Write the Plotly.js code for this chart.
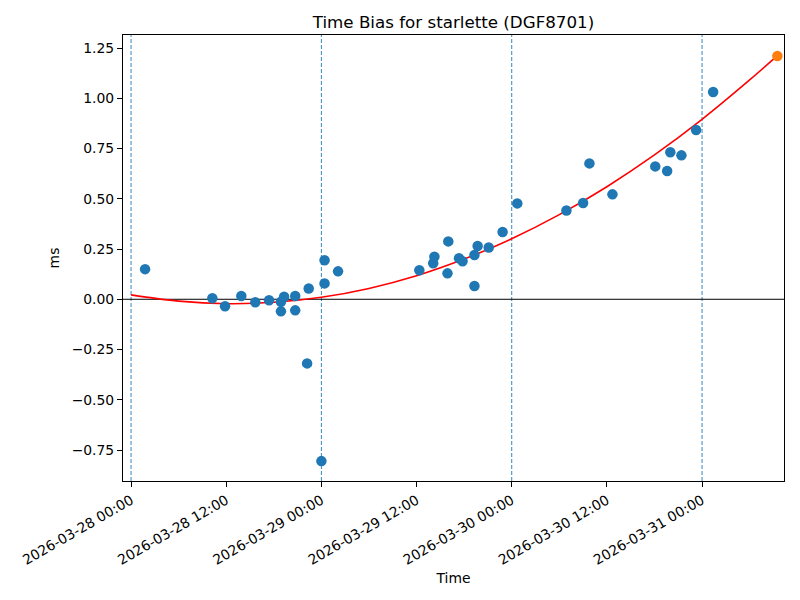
<!DOCTYPE html>
<html>
<head>
<meta charset="utf-8">
<script src="https://cdn.plot.ly/plotly-3.0.1.min.js"></script>
<style>html,body{margin:0;padding:0;background:#fff}#chart{width:800px;height:600px}</style>
</head>
<body>
<div id="chart"></div>
<script>
// Observed time bias points
const obsTimes = [
  '2026-03-28 01:46','2026-03-28 10:15','2026-03-28 11:51','2026-03-28 13:54','2026-03-28 15:40',
  '2026-03-28 17:24','2026-03-28 18:54','2026-03-28 18:54','2026-03-28 19:18','2026-03-28 20:42',
  '2026-03-28 20:42','2026-03-28 22:12','2026-03-28 22:24','2026-03-29 00:00','2026-03-29 00:24',
  '2026-03-29 00:24','2026-03-29 02:06','2026-03-29 12:21','2026-03-29 14:06','2026-03-29 14:15',
  '2026-03-29 15:54','2026-03-29 16:00','2026-03-29 17:21','2026-03-29 17:48','2026-03-29 19:18',
  '2026-03-29 19:18','2026-03-29 19:42','2026-03-29 21:06','2026-03-29 22:51','2026-03-30 00:42',
  '2026-03-30 06:54','2026-03-30 09:00','2026-03-30 09:48','2026-03-30 12:42','2026-03-30 18:06',
  '2026-03-30 19:36','2026-03-30 20:00','2026-03-30 21:24','2026-03-30 23:15','2026-03-31 01:24'
];
const obsBias = [
  0.150, 0.005, -0.035, 0.016, -0.015,
  -0.005, -0.012, -0.060, 0.013, 0.016,
  -0.055, -0.319, 0.054, -0.805, 0.194,
  0.079, 0.139, 0.144, 0.179, 0.212,
  0.129, 0.288, 0.204, 0.189, 0.220,
  0.066, 0.265, 0.258, 0.335, 0.477,
  0.442, 0.479, 0.676, 0.522, 0.661,
  0.638, 0.731, 0.716, 0.842, 1.031
];
// Fitted curve, every 6 hours
const fitTimes = [
  '2026-03-28 00:00','2026-03-28 06:00','2026-03-28 12:00','2026-03-28 18:00','2026-03-29 00:00',
  '2026-03-29 06:00','2026-03-29 12:00','2026-03-29 18:00','2026-03-30 00:00','2026-03-30 06:00',
  '2026-03-30 12:00','2026-03-30 18:00','2026-03-31 00:00','2026-03-31 06:00','2026-03-31 09:30'
];
const fitBias = [
  0.022, -0.009, -0.022, -0.015, 0.010,
  0.054, 0.117, 0.200, 0.301, 0.421,
  0.560, 0.718, 0.895, 1.091, 1.212
];
// Predicted point
const predTime = ['2026-03-31 09:30'];
const predBias = [1.210];
// Day boundaries (dashed reference lines)
const dayMarks = ['2026-03-28 00:00','2026-03-29 00:00','2026-03-30 00:00','2026-03-31 00:00'];
const zeroLevel = 0;
const xTicks = ['2026-03-28 00:00','2026-03-28 12:00','2026-03-29 00:00','2026-03-29 12:00','2026-03-30 00:00','2026-03-30 12:00','2026-03-31 00:00'];
const yTicks = [-0.75,-0.5,-0.25,0,0.25,0.5,0.75,1.0,1.25];

const font = 'DejaVu Sans, sans-serif';
const shapes = dayMarks.map(d => ({
  type:'line', xref:'x', yref:'paper', x0:d, x1:d, y0:0, y1:1,
  line:{color:'#1f77b4', width:0.9, dash:'4px,2px'}, layer:'below'
}));
shapes.push({type:'line', xref:'paper', yref:'y', x0:0, x1:1, y0:zeroLevel, y1:zeroLevel,
  line:{color:'#000', width:1}, layer:'below'});

const traces = [
  {x:fitTimes, y:fitBias, type:'scatter', mode:'lines', line:{color:'#ff0000', width:1.6, shape:'spline'}, hoverinfo:'skip'},
  {x:obsTimes, y:obsBias, type:'scatter', mode:'markers', marker:{color:'#1f77b4', size:10.5}},
  {x:predTime, y:predBias, type:'scatter', mode:'markers', marker:{color:'#ff7f0e', size:10.5}}
];

const layout = {
  width:800, height:600, showlegend:false,
  paper_bgcolor:'#fff', plot_bgcolor:'#fff',
  margin:{l:123, r:16, t:35, b:119},
  font:{family:font, size:13.9, color:'#000'},
  title:{text:'Time Bias for starlette (DGF8701)', font:{family:font, size:16.7, color:'#000'},
         x:0.5, xref:'paper', xanchor:'center', y:1-22/600, yref:'container', yanchor:'middle'},
  xaxis:{type:'date', range:['2026-03-27 22:59','2026-03-31 10:20'],
    tickmode:'array', tickvals:xTicks, ticktext:xTicks,
    tickangle:-30, ticks:'outside', ticklen:5, tickwidth:1, tickcolor:'#000',
    showline:true, linecolor:'#000', linewidth:1, mirror:true, showgrid:false, zeroline:false,
    tickfont:{family:font, size:13.9, color:'#000'},
    title:{text:'Time', font:{family:font, size:13.9, color:'#000'}, standoff:6}},
  yaxis:{range:[-0.904, 1.3147], tickmode:'array', tickvals:yTicks,
    ticktext:yTicks.map(v => (v<0?'\u2212':'') + Math.abs(v).toFixed(2)),
    ticks:'outside', ticklen:5, tickwidth:1, tickcolor:'#000',
    showline:true, linecolor:'#000', linewidth:1, mirror:true, showgrid:false, zeroline:false,
    tickfont:{family:font, size:13.9, color:'#000'},
    title:{text:'ms', font:{family:font, size:13.9, color:'#000'}, standoff:8}},
  shapes:shapes
};
Plotly.newPlot('chart', traces, layout, {displayModeBar:false, staticPlot:true});
</script>
</body>
</html>
